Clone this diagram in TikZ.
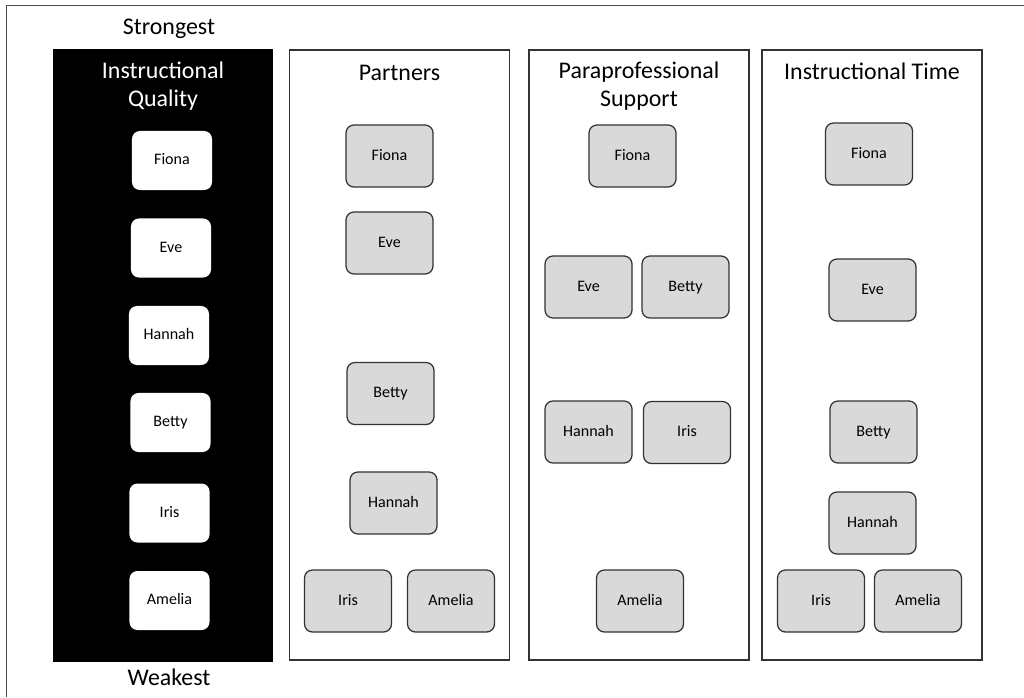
\documentclass[tikz,border=0pt]{standalone}
\usepackage{fontspec}
\setmainfont{Carlito}
\usepackage{tikz}

\tikzset{
  column/.style={draw=black!80, line width=1pt, minimum width=5.5cm, minimum height=15.25cm},
  title/.style={align=center, font=\fontsize{17}{20}\selectfont},
  student/.style={draw=black!80, fill=black!15, line width=0.9pt, rounded corners=0.2cm,
    minimum width=2.175cm, minimum height=1.55cm, text height=1.6ex, text depth=0.4ex,
    font=\fontsize{11.4}{13}\selectfont},
  best/.style={fill=white, rounded corners=0.2cm, text height=1.6ex, text depth=0.4ex,
    minimum width=2cm, minimum height=1.475cm, font=\fontsize{11.4}{13}\selectfont}
}

\begin{document}
\begin{tikzpicture}[x=0.025cm, y=-0.025cm]

   \useasboundingbox (0,0) rectangle (1024,697);
   \draw[black!70, line width=0.7pt] (6,697) -- (6,5) -- (1024,5);

   % columns
   \node [column, fill=black, draw=black, minimum width=5.45cm, minimum height=15.275cm] (quality) at (163,355.5) {};
   \node [column] (partners) at (399.5,355) {};
   \node [column] (support) at (639,355) {};
   \node [column] (time) at (872,355) {};

   \node [title] (strong) at (169,29) {Strongest};
   \node [title] (weak) at (169,677) {Weakest};

   \node [title, text=white] (tquality) at (163,86.5) {Instructional\\Quality};
   \node [title] (tpartners) at (399.5,73) {Partners};
   \node [title] (tsupport) at (639,86) {Paraprofessional\\Support};
   \node [title] (ttime) at (872,71) {Instructional Time};

   \foreach \x/\y/\t in {172/160.5/Fiona, 171/248/Eve, 169/335.5/Hannah, 170.5/422.5/Betty, 169.5/513/Iris, 169.5/600.5/Amelia}
     \node [best] (q\t) at (\x,\y) {\t};

   \foreach \x/\y/\t in {389.5/156/Fiona, 389.5/243/Eve, 390.5/393.5/Betty, 393.5/503/Hannah, 348/601/Iris, 451/601/Amelia}
     \node [student] (p\t) at (\x,\y) {\t};

   \foreach \x/\y/\t in {632.5/156/Fiona, 588.5/287/Eve, 685.5/287/Betty, 588.5/432/Hannah, 687/432.5/Iris, 640/601/Amelia}
     \node [student] (s\t) at (\x,\y) {\t};

   \foreach \x/\y/\t in {869/154/Fiona, 872.5/290/Eve, 873.5/432/Betty, 872.5/523/Hannah, 821/601/Iris, 918/601/Amelia}
     \node [student] (t\t) at (\x,\y) {\t};

\end{tikzpicture}
\end{document}
